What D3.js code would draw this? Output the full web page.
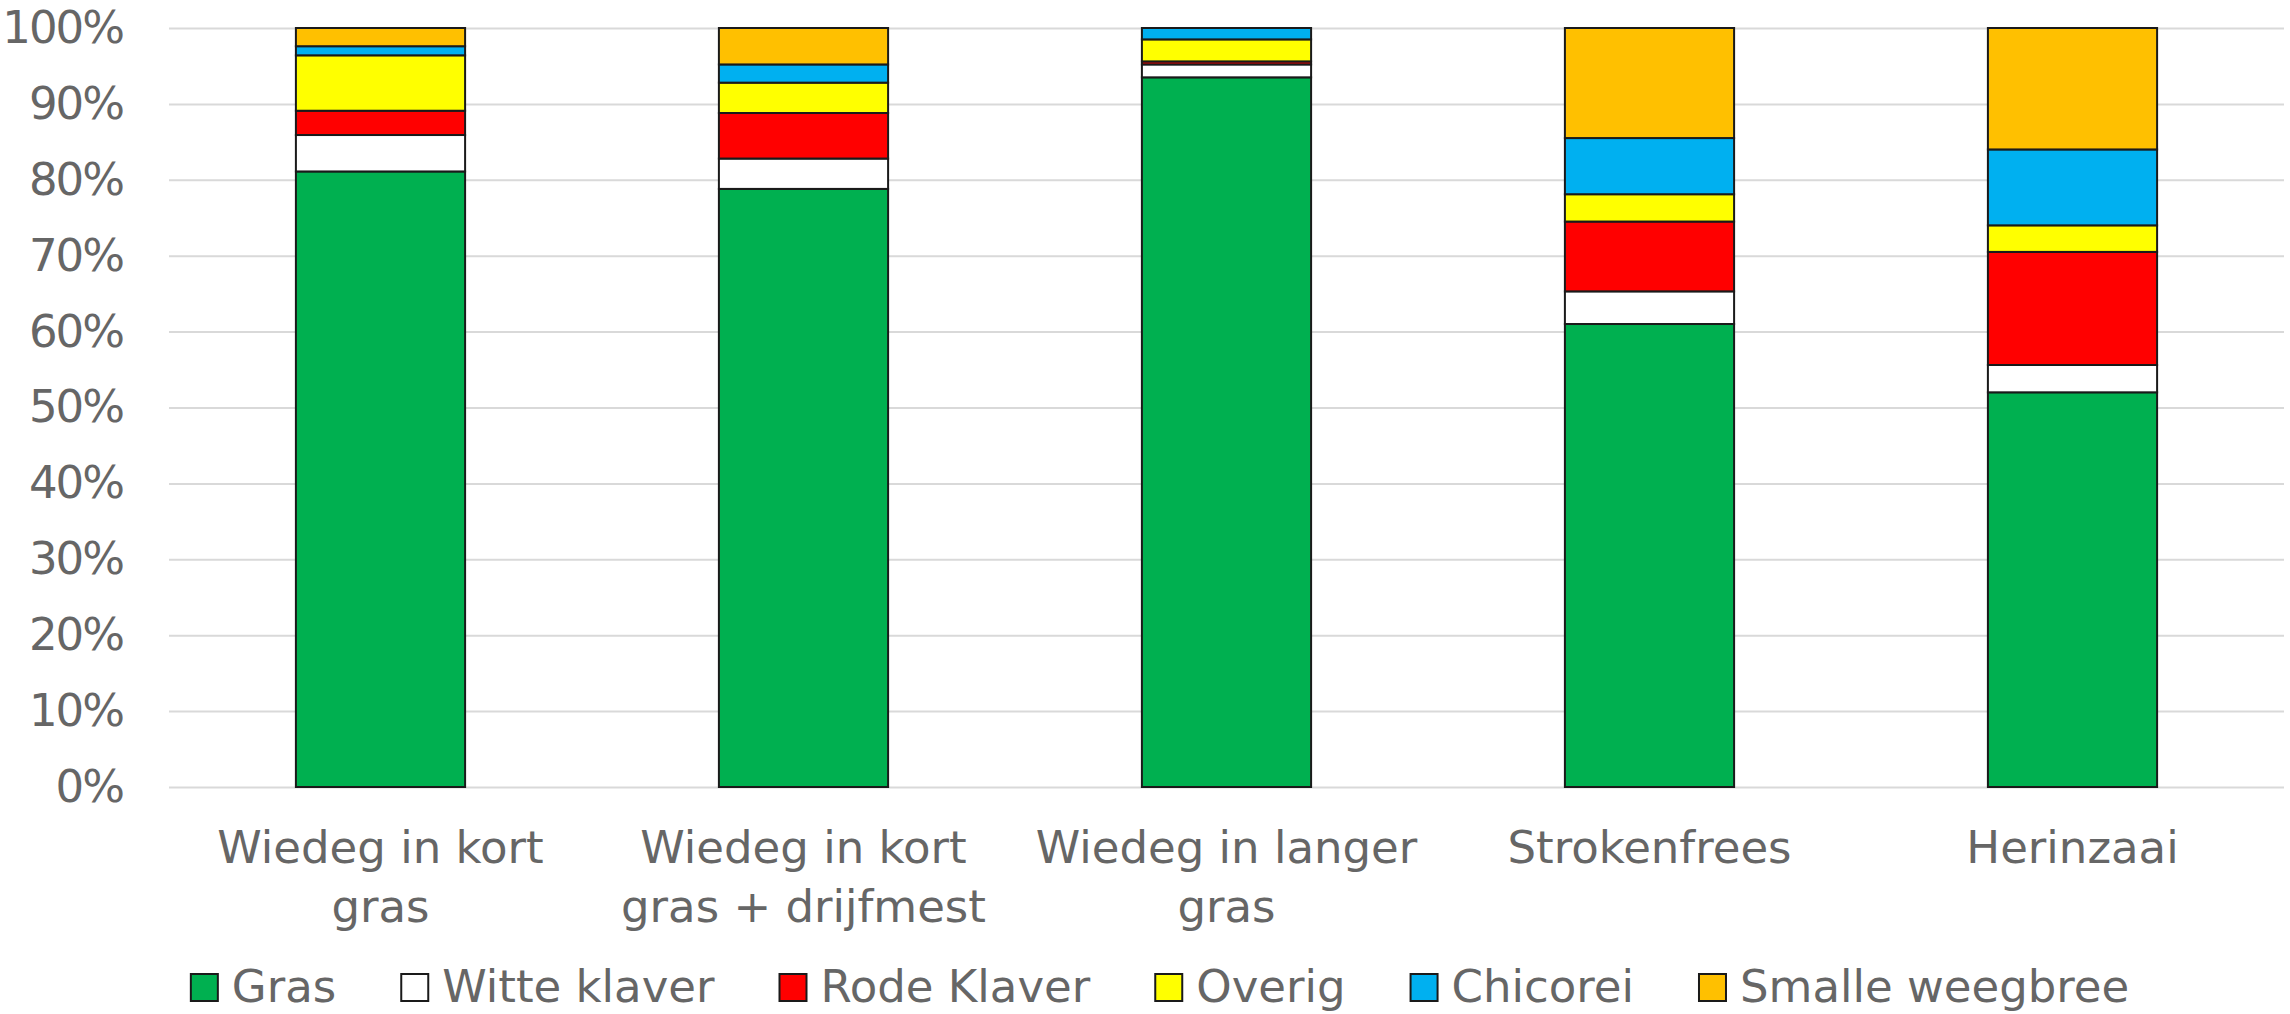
<!DOCTYPE html>
<html><head><meta charset="utf-8">
<script src="https://cdn.jsdelivr.net/npm/d3@7"></script>
<style>body{margin:0;background:#fff}</style></head>
<body><svg id="c" width="2290" height="1014"></svg>
<script>
const categories = ["Wiedeg in kort gras","Wiedeg in kort gras + drijfmest","Wiedeg in langer gras","Strokenfrees","Herinzaai"];
const categoryLines = [["Wiedeg in kort","gras"],["Wiedeg in kort","gras + drijfmest"],["Wiedeg in langer","gras"],["Strokenfrees"],["Herinzaai"]];
const seriesNames = ["Gras","Witte klaver","Rode Klaver","Overig","Chicorei","Smalle weegbree"];
const seriesColors = ["#00B050","#FFFFFF","#FF0000","#FFFF00","#00B0F0","#FFC000"];
const gras = [81.1,78.8,93.5,61.0,52.0];
const witteKlaver = [4.8,4.0,1.7,4.3,3.6];
const rodeKlaver = [3.2,6.0,0.4,9.2,14.9];
const overig = [7.3,4.0,2.9,3.6,3.5];
const chicorei = [1.2,2.4,1.5,7.4,10.0];
const smalleWeegbree = [2.4,4.8,0.0,14.5,16.0];
const yTicks = [0,10,20,30,40,50,60,70,80,90,100];

(function(){
const seriesValues = [gras,witteKlaver,rodeKlaver,overig,chicorei,smalleWeegbree];
const rows = categories.map((c,i)=>{const r={cat:c}; seriesNames.forEach((s,j)=>r[s]=seriesValues[j][i]); return r;});

const FONT = "'DejaVu Sans', sans-serif";
const TXT = "#666666";
const svg = d3.select("#c");
const pLeft=169, pRight=2284, pTop=28, pBottom=787;

const x = d3.scaleBand().domain(categories).range([pLeft,pRight]).paddingInner(0.6).paddingOuter(0.3);
const y = d3.scaleLinear().domain([0,100]).range([pBottom,pTop]);

// gridlines + y labels
const ga = svg.append("g").attr("transform",`translate(${pLeft},0)`)
  .call(d3.axisLeft(y).tickValues(yTicks).tickSize(-(pRight-pLeft)).tickPadding(46).tickFormat(d=>d+"%"));
ga.select(".domain").remove();
ga.selectAll(".tick line").attr("stroke","#d9d9d9").attr("stroke-width",2);
ga.selectAll(".tick text").attr("fill",TXT).style("font-family",FONT).style("font-size","45px").style("letter-spacing","-2px");

// bars
const stack = d3.stack().keys(seriesNames)(rows);
svg.append("g").selectAll("g").data(stack).join("g")
  .attr("fill",(d,i)=>seriesColors[i])
  .selectAll("rect").data(d=>d.filter(p=>p[1]-p[0]>0)).join("rect")
  .attr("x",d=>x(d.data.cat)).attr("width",x.bandwidth())
  .attr("y",d=>y(d[1])).attr("height",d=>y(d[0])-y(d[1]))
  .attr("stroke","#1a1a1a").attr("stroke-width",2);

// category labels
const cl = svg.append("g").selectAll("text").data(categories).join("text")
  .attr("text-anchor","middle").attr("fill",TXT)
  .style("font-family",FONT).style("font-size","45px")
  .attr("x",d=>x(d)+x.bandwidth()/2).attr("y",863);
cl.each(function(d,i){
  const t=d3.select(this);
  categoryLines[i].forEach((ln,k)=>t.append("tspan").attr("x",x(d)+x.bandwidth()/2).attr("dy",k===0?0:59).text(ln));
});

// legend
const lg = svg.append("g");
let cx = 0;
seriesNames.forEach((s,i)=>{
  const g = lg.append("g");
  g.append("rect").attr("x",0).attr("y",974).attr("width",27).attr("height",27)
    .attr("fill",seriesColors[i]).attr("stroke","#1a1a1a").attr("stroke-width",2);
  const t = g.append("text").attr("x",41).attr("y",1002).attr("fill",TXT)
    .style("font-family",FONT).style("font-size","45px").text(s);
  const w = 41 + t.node().getComputedTextLength();
  g.attr("transform",`translate(${cx},0)`);
  cx += w + 65;
});
const total = cx - 65;
lg.attr("transform",`translate(${1160 - total/2},0)`);
})();
</script></body></html>
